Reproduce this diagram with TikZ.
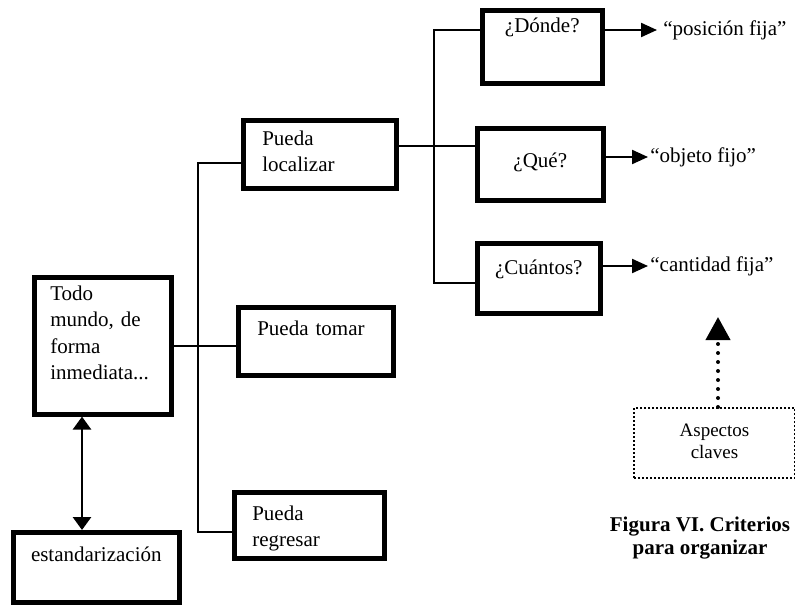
\documentclass[tikz,border=0pt]{standalone}
\usepackage{fontspec}
\setmainfont{Liberation Serif}
\usetikzlibrary{arrows.meta,positioning}

\begin{document}
\begin{tikzpicture}[x=0.5pt, y=-0.5pt,
    caja/.style={draw, line width=2.3pt, anchor=north west, inner ysep=0pt,
        font=\fontsize{10.5}{13.2}\selectfont},
    izq/.style={align=left},
    linea/.style={line width=1.1pt},
    flecha/.style={line width=1.1pt, -{Triangle[length=8pt,width=7pt]}},
    doble/.style={line width=1.4pt, {Triangle[length=6.5pt,width=9pt]}-{Triangle[length=6.5pt,width=9pt]}},
    rotulo/.style={anchor=west, font=\fontsize{10.5}{13.2}\selectfont}]
\useasboundingbox (0,0) rectangle (795,604);

% Left boxes
\node[caja, izq, inner xsep=8pt, text width=52.5pt, text height=11.5pt, text depth=57pt]
    (todo) at (32,275) {Todo\\mundo, de\\forma\\inmediata...};
\node[caja, minimum width=83pt, inner xsep=0pt, text height=14.5pt, text depth=20.5pt]
    (estand) at (11,530) {estandarización};

% Middle boxes
\node[caja, izq, inner xsep=9.5pt, text width=57.5pt, text height=12.5pt, text depth=21.5pt]
    (loc) at (241,118) {Pueda\\localizar};
\node[caja, izq, inner xsep=9.5pt, text width=58.5pt, text height=14pt, text depth=20pt]
    (tomar) at (236,305) {Pueda tomar};
\node[caja, izq, inner xsep=9pt, text width=57pt, text height=14pt, text depth=19pt]
    (regresar) at (232,490) {Pueda\\regresar};

% Right boxes
\node[caja, minimum width=60pt, text height=11pt, text depth=25.5pt] (donde) at (480,8) {¿Dónde?};
\node[caja, minimum width=63pt, text height=19.5pt, text depth=16.5pt] (que) at (475,126) {¿Qué?};
\node[caja, minimum width=61.5pt, text height=15.5pt, text depth=19.5pt] (cuantos) at (475,241) {¿Cuántos?};

% Results
\node[rotulo, inner xsep=3pt] (posicion) at (657,30) {“posición fija”};
\node[rotulo, inner xsep=1pt] (objeto) at (648,157) {“objeto fijo”};
\node[rotulo, inner xsep=1pt] (cantidad) at (648,266) {“cantidad fija”};

% Key aspects
\node[anchor=north west, draw, line width=1pt, dash pattern=on 1pt off 1pt, align=center,
    text width=70pt, inner xsep=5.25pt, inner ysep=0pt, text height=14pt, text depth=21pt,
    font=\fontsize{9.5}{11}\selectfont] (aspectos) at (633,407) {Aspectos\\claves};
\coordinate (punta) at (718,317);

% Caption
\node[font=\bfseries\fontsize{10.5}{11.5}\selectfont, align=center] (titulo) at (700,538)
    {Figura VI. Criterios\\para organizar};

% Connections (left tree)
\coordinate (nudoD) at (198,163);
\coordinate (nudoE) at (198,532);
\draw[linea] (nudoD -| loc.west) -- (nudoD) -- (nudoE) -- (nudoE -| regresar.west);
\draw[linea] (todo.east) -- (todo.east -| tomar.west);

% Connections (right tree)
\coordinate (nudoA) at (434,30);
\coordinate (nudoB) at (434,283);
\coordinate (nudoC) at (434,146);
\draw[linea] (nudoA -| donde.west) -- (nudoA) -- (nudoB) -- (nudoB -| cuantos.west);
\draw[linea] (nudoC -| loc.east) -- (nudoC -| que.west);

% Arrows
\foreach \src/\dst in {donde/posicion, que/objeto, cuantos/cantidad} {
    \draw[flecha] (\src.east |- \dst.west) -- (\dst.west);
}
\coordinate (eje) at (82,0);
\draw[doble] (todo.south -| eje) -- (estand.north -| eje);
\draw[line width=2pt, dash pattern=on 0pt off 4.5pt, line cap=round,
    -{Triangle[length=11.5pt,width=12pt]}] (aspectos.north -| punta) -- (punta);
\end{tikzpicture}
\end{document}
